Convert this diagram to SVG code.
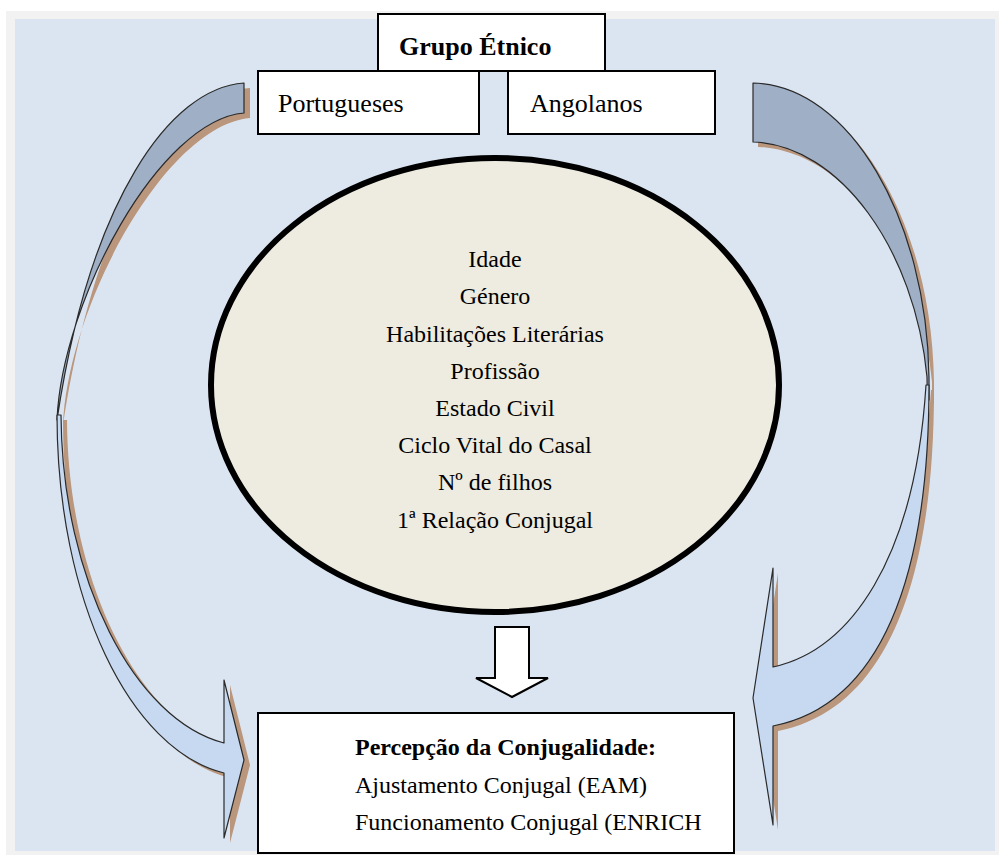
<svg xmlns="http://www.w3.org/2000/svg" xmlns:xlink="http://www.w3.org/1999/xlink" width="999" height="855" viewBox="0 0 999 855">
<defs>
<style>
.box{fill:#ffffff;stroke:#000000;stroke-width:2}
.t{font-family:"Liberation Serif","Times New Roman",serif;fill:#000000}
.b{font-weight:bold}
.dark{fill:#9eafc6;stroke:#2a2a2a;stroke-width:1.2;stroke-linejoin:round}
.light{fill:#c6d9f1;stroke:#2a2a2a;stroke-width:1.2;stroke-linejoin:round}
.shadow{fill:#b9967c}
</style>
<filter id="soft" x="-5%" y="-5%" width="110%" height="110%"><feGaussianBlur stdDeviation="0.7"/></filter>
<path id="LD" d="M244,83 C170,88 90,200 57,420 C62,300 160,120 244,113 Z"/>
<path id="LL" d="M57,415 C57,600 130,750 224,773 L224,838 L244,760 L224,680 L224,743 C135,720 62,580 61,415 Z"/>
<path id="RD" d="M753,83 C850,85 927,220 929,377 L929,400 C927,395 927,390 927,377 C915,250 840,145 753,142 Z"/>
<path id="RL" d="M929,385 C929,580 880,705 773,726 L773,825 L753,698 L773,568 L773,667 C850,650 915,560 926,385 Z"/>
</defs>
<rect x="0" y="0" width="999" height="855" fill="#ffffff"/>
<rect x="6" y="11" width="993" height="844" fill="#f2f2f2"/>
<rect x="15" y="19" width="980" height="832" fill="#dbe5f1"/>
<g id="connectors">
<g id="arrow-left">
<use xlink:href="#LD" class="shadow" transform="translate(6,5)" filter="url(#soft)"/>
<use xlink:href="#LL" class="shadow" transform="translate(6,5)" filter="url(#soft)"/>
<use xlink:href="#LD" class="dark"/>
<use xlink:href="#LL" class="light"/>
</g>
<g id="arrow-right">
<use xlink:href="#RD" class="shadow" transform="translate(5,5)" filter="url(#soft)"/>
<use xlink:href="#RL" class="shadow" transform="translate(5,5)" filter="url(#soft)"/>
<use xlink:href="#RD" class="dark"/>
<use xlink:href="#RL" class="light"/>
</g>
<path id="arrow-down" d="M495,627 L529,627 L529,678 L548,678 L512,697 L476,678 L495,678 Z" fill="#ffffff" stroke="#000000" stroke-width="2" stroke-linejoin="miter"/>
</g>
<g id="grupo">
<rect class="box" x="378" y="14" width="227" height="57"/>
<text class="t b" x="399" y="55" font-size="26">Grupo Étnico</text>
</g>
<g id="portugueses">
<rect class="box" x="258" y="71" width="221" height="63"/>
<text class="t" x="278" y="112" font-size="26">Portugueses</text>
</g>
<g id="angolanos">
<rect class="box" x="508" y="71" width="207" height="63"/>
<text class="t" x="530" y="112" font-size="26">Angolanos</text>
</g>
<g id="variaveis">
<ellipse cx="495" cy="385" rx="284" ry="227" fill="#eeece1" stroke="#000000" stroke-width="6"/>
<g class="t" font-size="24" text-anchor="middle">
<text x="495" y="267">Idade</text>
<text x="495" y="304">Género</text>
<text x="495" y="342">Habilitações Literárias</text>
<text x="495" y="379">Profissão</text>
<text x="495" y="416">Estado Civil</text>
<text x="495" y="453">Ciclo Vital do Casal</text>
<text x="495" y="490">Nº de filhos</text>
<text x="495" y="528">1ª Relação Conjugal</text>
</g>
</g>
<g id="percepcao">
<rect class="box" x="258" y="713" width="476" height="140"/>
<text class="t b" x="355" y="755" font-size="24">Percepção da Conjugalidade:</text>
<text class="t" x="355" y="793" font-size="24">Ajustamento Conjugal (EAM)</text>
<text class="t" x="355" y="830" font-size="24">Funcionamento Conjugal (ENRICH</text>
</g>
</svg>
